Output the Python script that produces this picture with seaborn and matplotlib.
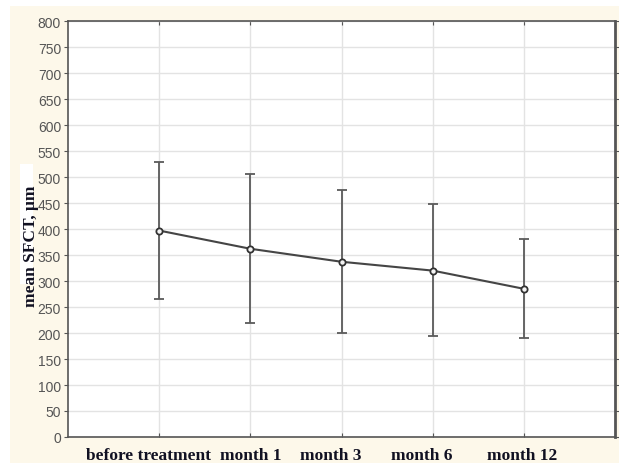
import matplotlib
matplotlib.use("Agg")
import matplotlib.pyplot as plt
import matplotlib.transforms as mtransforms
import seaborn as sns
import pandas as pd
from matplotlib.patches import Rectangle

categories = ["before treatment", "month 1", "month 3", "month 6", "month 12"]
mean_sfct = [397, 362, 337, 320, 285]
upper = [528, 506, 475, 448, 381]
lower = [265, 219, 200, 194, 190]
y_ticks = list(range(0, 801, 50))

df = pd.DataFrame({"pos": range(len(categories)), "cat": categories, "mean": mean_sfct,
                   "lo": lower, "hi": upper})

sns.set_style("white")
plt.rcParams["font.family"] = ["Liberation Sans", "DejaVu Sans"]

W, H = 619, 464
fig = plt.figure(figsize=(W / 100, H / 100), dpi=100, facecolor="white")
# cream background panel
fig.patches.append(Rectangle((10 / W, 0), 1 - 10 / W, 1 - 7 / H, transform=fig.transFigure,
                             facecolor="#fdf8ea", edgecolor="none", zorder=-10))
fig.patches.append(Rectangle((20 / W, 1 - 285 / H), 13 / W, 120 / H, transform=fig.transFigure,
                             facecolor="white", edgecolor="none", zorder=-9))

ax = fig.add_axes([68 / W, 1 - 438 / H, (615 - 68) / W, (438 - 22) / H])
ax.set_zorder(5)
ax.set_facecolor("white")

yerr = [df["mean"] - df["lo"], df["hi"] - df["mean"]]
ax.errorbar(df["pos"], df["mean"], yerr=yerr, fmt="none", ecolor="#5a5a5a",
            elinewidth=1.3, capsize=3.5, capthick=1.3, zorder=3)
sns.lineplot(data=df, x="pos", y="mean", ax=ax, color="#454545", linewidth=1.5,
             marker="o", markersize=4.5, markerfacecolor="#f4f4f4",
             markeredgecolor="#333333", markeredgewidth=1.3, zorder=4)

ax.set_xlim(-1, 5)
ax.set_ylim(0, 800)
ax.set_yticks(y_ticks)
ax.set_yticklabels([str(v) for v in y_ticks], color="#555555", fontsize=10)
ax.set_xticks(df["pos"])
ax.set_xticklabels(categories, fontsize=12.5, fontweight="bold",
                   family=["Liberation Serif"], color="#111122")
ax.grid(True, color="#e3e3e3", linewidth=1.0)
ax.set_axisbelow(True)

ax.tick_params(axis="y", which="both", left=True, right=True, direction="out",
               length=3, width=0.8, color="#555555", pad=2)
ax.tick_params(axis="x", bottom=True, top=True, direction="in", length=3, width=0.8,
               color="#555555", pad=7.5)

# small horizontal shifts of the category labels as in the reference (pixels)
shifts_px = [-11, 0, -11, -11, -2]
for lab, dx in zip(ax.get_xticklabels(), shifts_px):
    lab.set_transform(lab.get_transform() +
                      mtransforms.ScaledTranslation(dx / 100, 0, fig.dpi_scale_trans))

for side in ["left", "bottom", "top"]:
    ax.spines[side].set_color("#555555")
    ax.spines[side].set_linewidth(1.2)
ax.spines["right"].set_color("#555555")
ax.spines["right"].set_linewidth(2.0)

ax.set_xlabel("")
ax.set_ylabel("mean SFCT, μm", fontsize=12.5, fontweight="bold",
              family=["Liberation Serif", "DejaVu Serif"], color="#111122")
ax.yaxis.set_label_coords((39 - 68) / (615 - 68), (438 - 246) / (438 - 22))

fig.savefig("out.png", dpi=100, facecolor=fig.get_facecolor())
